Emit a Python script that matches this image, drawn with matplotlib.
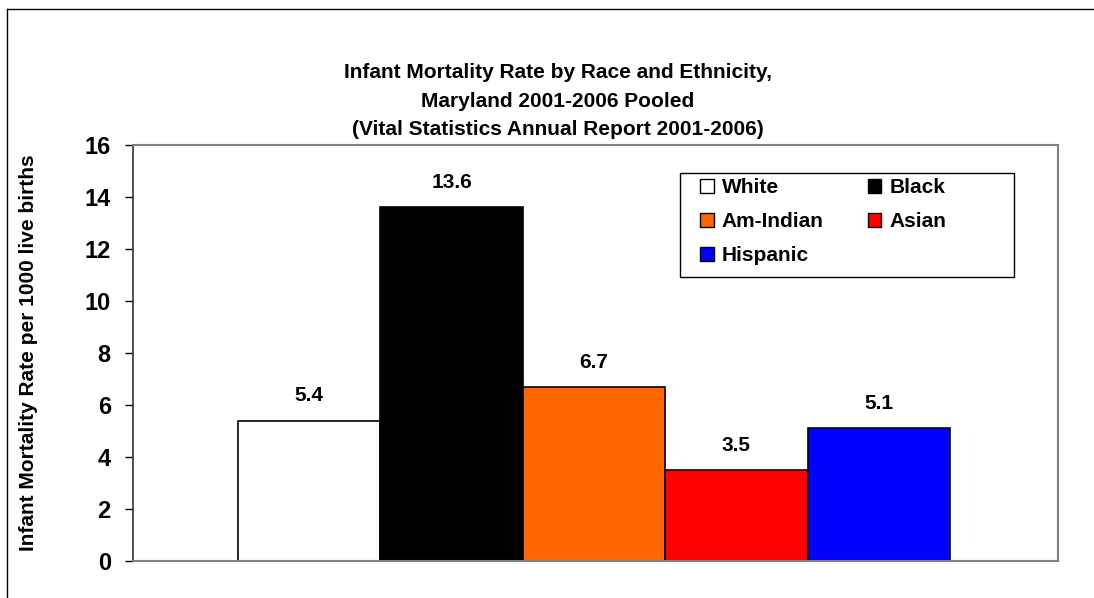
import matplotlib.pyplot as plt
from matplotlib.lines import Line2D
from matplotlib.patches import Rectangle

plt.rcParams['font.family'] = ['Liberation Sans', 'DejaVu Sans']
plt.rcParams['font.weight'] = 'bold'

# data
groups = ['White', 'Black', 'Am-Indian', 'Asian', 'Hispanic']
rates = [5.4, 13.6, 6.7, 3.5, 5.1]
colors = ['#FFFFFF', '#000000', '#FF6600', '#FF0000', '#0000FF']
yticks = [0, 2, 4, 6, 8, 10, 12, 14, 16]
title_lines = ['Infant Mortality Rate by Race and Ethnicity,',
               'Maryland 2001-2006 Pooled',
               '(Vital Statistics Annual Report 2001-2006)']

fig = plt.figure(figsize=(10.94, 5.98), dpi=100)
ax = fig.add_axes([0.1216, 0.0619, 0.8455, 0.6956])

bars = []
for i, (g, r, c) in enumerate(zip(groups, rates, colors)):
    b = ax.bar(i, r, width=1.0, color=c, edgecolor='black', linewidth=1.2, label=g)
    bars.append(b)
    ax.annotate('%.1f' % r, (i, r), xytext=(0, 11), textcoords='offset points',
                ha='center', va='bottom', fontsize=15, fontweight='bold')

ax.set_xlim(-1.237, 5.258)
ax.set_ylim(0, 16)
ax.set_yticks(yticks)
ax.set_xticks([])
ax.tick_params(axis='y', direction='out', length=6, width=1, labelsize=17, pad=10)
for lab in ax.get_yticklabels():
    lab.set_fontweight('bold')
for s in ['top', 'right', 'bottom']:
    ax.spines[s].set_color('#808080')
    ax.spines[s].set_linewidth(1.5)
ax.spines['left'].set_color('#333333')
ax.spines['left'].set_linewidth(1.2)

ax.set_ylabel('Infant Mortality Rate per 1000 live births', fontsize=15,
              fontweight='bold')
ax.yaxis.set_label_coords(-0.103, 0.5)

# legend frame drawn separately, entries placed inside it
ax.add_patch(Rectangle((0.5914, 0.6827), 0.361, 0.25, transform=ax.transAxes,
                       facecolor='white', edgecolor='black', lw=1.0, zorder=4))
# fill column-first so rows read White/Black, Am-Indian/Asian, Hispanic
order = [0, 2, 4, 1, 3]
leg = ax.legend([bars[i] for i in order], [groups[i] for i in order], ncol=2,
                loc='upper left', bbox_to_anchor=(0.613, 0.921),
                frameon=False, prop={'weight': 'bold', 'size': 15},
                handlelength=0.65, handleheight=0.65, handletextpad=0.4,
                columnspacing=2.1, labelspacing=0.72, borderpad=0,
                borderaxespad=0)
leg.set_zorder(5)
for h in leg.legend_handles:
    h.set_linewidth(1.0)

ys = [0.878, 0.831, 0.784]
for t, y in zip(title_lines, ys):
    fig.text(0.51, y, t, ha='center', va='center', fontsize=15, fontweight='bold')

# chart area border (left and top edges visible)
fig.add_artist(Line2D([0.0068, 0.0068], [0, 0.985], transform=fig.transFigure,
                      color='black', lw=1))
fig.add_artist(Line2D([0.0068, 1.0], [0.985, 0.985], transform=fig.transFigure,
                      color='black', lw=1))

plt.savefig('out.png', dpi=100)
